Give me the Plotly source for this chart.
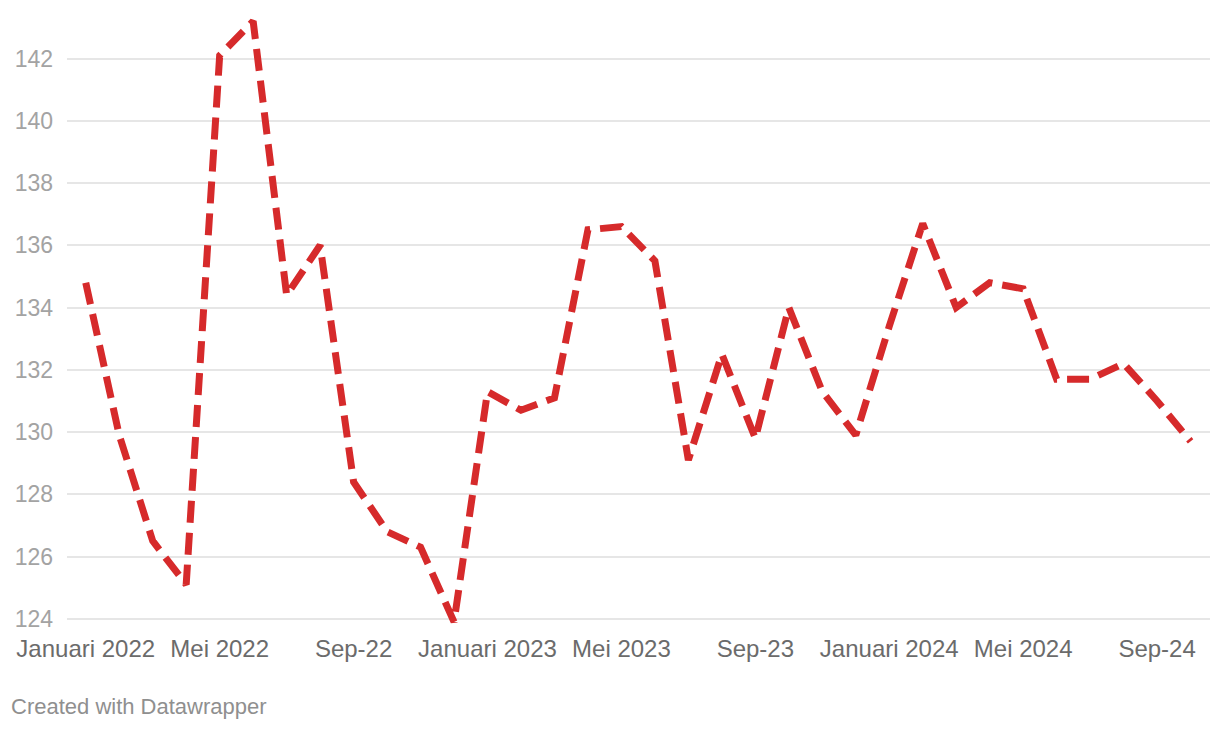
import plotly.graph_objects as go

months = list(range(34))  # Jan 2022 .. Oct 2024
values = [134.8, 129.9, 126.5, 125.1, 142.1, 143.2, 134.4, 136.0,
          128.4, 126.8, 126.3, 123.9, 131.3, 130.7, 131.1, 136.5,
          136.6, 135.5, 129.1, 132.5, 129.8, 134.0, 131.3, 129.9,
          133.4, 136.7, 134.0, 134.8, 134.6, 131.7, 131.7, 132.2,
          131.0, 129.7]

tick_vals = [0, 4, 8, 12, 16, 20, 24, 28, 32]
tick_text = ["Januari 2022", "Mei 2022", "Sep-22", "Januari 2023", "Mei 2023",
             "Sep-23", "Januari 2024", "Mei 2024", "Sep-24"]
y_ticks = [124, 126, 128, 130, 132, 134, 136, 138, 140, 142]

fig = go.Figure()
fig.add_trace(go.Scatter(
    x=months, y=values, mode="lines",
    line=dict(color="#d62a2b", width=7, dash="22px,10px"),
    hoverinfo="skip", showlegend=False,
))

fig.update_layout(
    width=1220, height=730,
    margin=dict(l=55, r=18, t=7, b=113),
    paper_bgcolor="white", plot_bgcolor="white",
    font=dict(family="Liberation Sans, Arial, sans-serif"),
    xaxis=dict(
        range=[-0.56, 33.58], tickmode="array", tickvals=tick_vals, ticktext=tick_text,
        showgrid=False, zeroline=False, showline=False, ticks="",
        tickfont=dict(size=24, color="#6b6b6b"), ticklabelstandoff=7,
    ),
    yaxis=dict(
        range=[123.8, 143.4], tickmode="array", tickvals=y_ticks,
        showgrid=True, gridcolor="#e6e6e6", gridwidth=2, zeroline=False, showline=False,
        ticks="", tickfont=dict(size=23, color="#a3a3a3"), ticklabelstandoff=13,
    ),
    annotations=[dict(
        text="Created with Datawrapper", xref="paper", yref="paper",
        x=-0.0507, y=-0.134, xanchor="left", yanchor="middle", showarrow=False,
        font=dict(size=22, color="#8f8f8f", family="Liberation Sans, Arial, sans-serif"),
    )],
)

fig.write_html("out.html")
